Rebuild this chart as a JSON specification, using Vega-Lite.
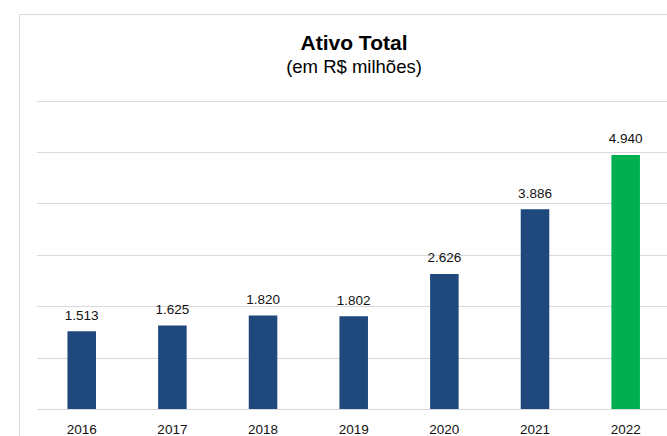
{
  "$schema": "https://vega.github.io/schema/vega-lite/v6.json",
  "width": 650,
  "height": 424,
  "padding": {"left": 19, "top": 14, "right": -2, "bottom": -2},
  "background": "#ffffff",
  "title": {
    "text": "Ativo Total",
    "subtitle": "(em R$ milhões)",
    "anchor": "middle",
    "dx": 10,
    "offset": -62,
    "font": "Liberation Sans",
    "fontSize": 21,
    "fontWeight": "bold",
    "color": "#000000",
    "subtitleFont": "Liberation Sans",
    "subtitleFontSize": 18.5,
    "subtitleColor": "#000000",
    "subtitlePadding": 4
  },
  "data": {
    "values": [
      {"ano": "2016", "valor": 1513},
      {"ano": "2017", "valor": 1625},
      {"ano": "2018", "valor": 1820},
      {"ano": "2019", "valor": 1802},
      {"ano": "2020", "valor": 2626},
      {"ano": "2021", "valor": 3886},
      {"ano": "2022", "valor": 4940}
    ]
  },
  "encoding": {
    "x": {
      "field": "ano",
      "type": "ordinal",
      "scale": {"range": [17.4, 652], "paddingInner": 0.685, "paddingOuter": 0.3425},
      "axis": {
        "title": null,
        "domain": false,
        "ticks": false,
        "grid": false,
        "offset": -29,
        "labelAngle": 0,
        "labelFont": "Liberation Sans",
        "labelFontSize": 13.5,
        "labelColor": "#111111",
        "labelPadding": 13
      }
    },
    "y": {
      "field": "valor",
      "type": "quantitative",
      "scale": {"domain": [0, 6000], "range": [395, 86.5], "nice": false},
      "axis": {
        "title": null,
        "labels": false,
        "ticks": false,
        "domain": false,
        "grid": true,
        "values": [0, 1000, 2000, 3000, 4000, 5000, 6000],
        "gridColor": "#d9d9d9",
        "gridWidth": 1
      }
    }
  },
  "layer": [
    {
      "mark": {"type": "bar"},
      "encoding": {
        "color": {
          "condition": {"test": "datum.ano === '2022'", "value": "#00b050"},
          "value": "#1f497d"
        }
      }
    },
    {
      "mark": {
        "type": "text",
        "baseline": "alphabetic",
        "dy": -11.6,
        "font": "Liberation Sans",
        "fontSize": 13.5,
        "color": "#111111"
      },
      "encoding": {
        "text": {"field": "valor", "type": "quantitative", "format": ",d"}
      }
    }
  ],
  "config": {
    "locale": {
      "number": {"decimal": ",", "thousands": ".", "grouping": [3], "currency": ["R$", ""]}
    },
    "view": {"stroke": "#d9d9d9", "strokeWidth": 1}
  }
}
